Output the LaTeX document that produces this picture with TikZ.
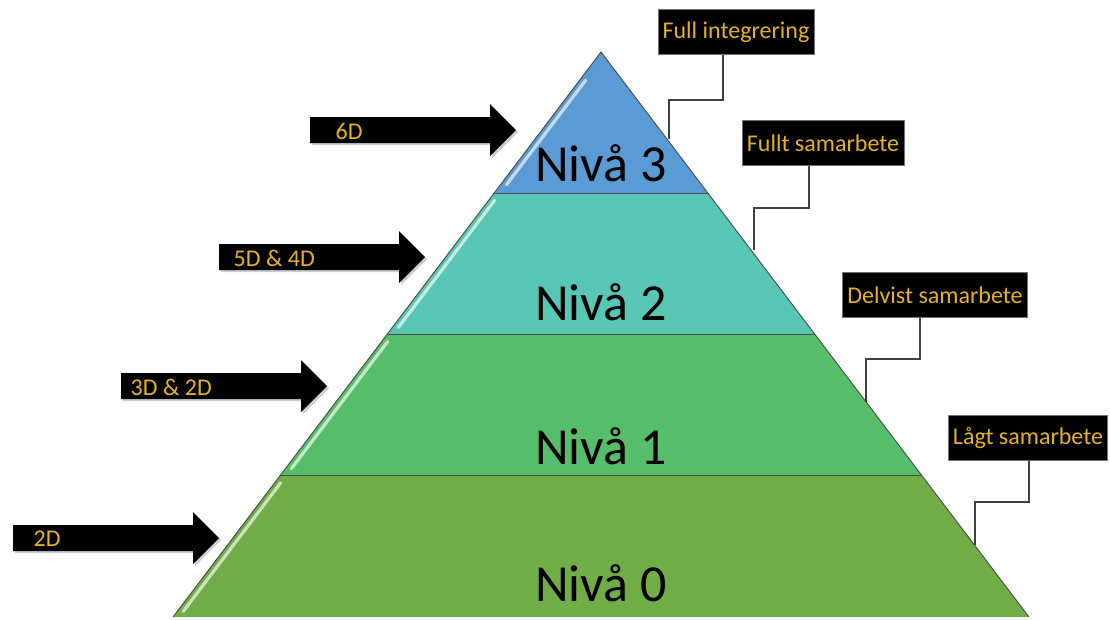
\documentclass[tikz,border=0pt]{standalone}
\usepackage{fontspec}
\setmainfont{Carlito}
\usetikzlibrary{calc,shadows}

\definecolor{lvlthree}{RGB}{91,155,213}
\definecolor{lvltwo}{RGB}{88,198,181}
\definecolor{lvlone}{RGB}{86,190,106}
\definecolor{lvlzero}{RGB}{112,173,71}
\definecolor{gold}{RGB}{228,178,32}

\begin{document}
\begin{tikzpicture}[x=0.75pt,y=-0.75pt,
  level/.style={font=\fontsize{39}{41}\selectfont},
  tag/.style={fill=black, draw=black!55, text=gold, minimum height=33.5pt,
    inner xsep=3.5pt, font=\fontsize{18}{20}\selectfont},
  dimtext/.style={anchor=west, text=gold, font=\fontsize{18}{20}\selectfont},
  link/.style={draw=black!75, line width=1.1pt},
  shine/.style={line width=2.4pt, line cap=round, opacity=0.9}]

\useasboundingbox (0,0) rectangle (1110,619);

% corners of the pyramid
  \coordinate (A)  at (601,52);
  \coordinate (BL) at (173,617);
  \coordinate (BR) at (1029,617);
  \foreach \i in {0,...,4} {
    \coordinate (L\i) at ($(A)!\i*0.25!(BL)$);
    \coordinate (R\i) at ($(A)!\i*0.25!(BR)$);
  }

% the levels
  \fill[lvlthree] (L0) -- (R1) -- (L1) -- cycle;
  \fill[lvltwo]   (L1) -- (R1) -- (R2) -- (L2) -- cycle;
  \fill[lvlone]   (L2) -- (R2) -- (R3) -- (L3) -- cycle;
  \fill[lvlzero]  (L3) -- (R3) -- (R4) -- (L4) -- cycle;

  \draw[shine, white!72!lvlthree] ($(L0)!0.2!(L1)+(6,0)$) -- ($(L0)!0.94!(L1)+(6,0)$);
  \draw[shine, white!72!lvltwo]   ($(L1)!0.05!(L2)+(6,0)$) -- ($(L1)!0.95!(L2)+(6,0)$);
  \draw[shine, white!72!lvlone]   ($(L2)!0.05!(L3)+(6,0)$) -- ($(L2)!0.95!(L3)+(6,0)$);
  \draw[shine, white!72!lvlzero]  ($(L3)!0.05!(L4)+(6,0)$) -- ($(L3)!0.96!(L4)+(6,0)$);

  \draw[black!70, line width=0.7pt] (BL) -- (A) -- (BR);
  \foreach \i in {1,2,3}
    \draw[black!70, line width=0.7pt] (L\i) -- (R\i);

  \node[level] (n3) at (601,163) {Nivå 3};
  \node[level] (n2) at (601,302) {Nivå 2};
  \node[level] (n1) at (601,446) {Nivå 1};
  \node[level] (n0) at (601,583) {Nivå 0};

% arrows on the left
  \foreach \x/\y/\tx/\txt [count=\k] in {310/130/331/6D, 219/257/229/5D \& 4D,
      121/386/126/3D \& 2D, 13/538/29/2D} {
    \fill[black, drop shadow={opacity=0.4,shadow xshift=1.5pt,shadow yshift=-1.5pt}]
      (\x,{\y-13}) -- ++(180,0) -- ++(0,-13) -- ++(26,26) -- ++(-26,26)
      -- ++(0,-13) -- ++(-180,0) -- cycle;
    \node[dimtext] (dim\k) at (\tx,{\y+1}) {\txt};
  }

% labels on the right
  \node[tag] (lbl3) at (736,32)  {Full integrering};
  \node[tag] (lbl2) at (823,143) {Fullt samarbete};
  \node[tag] (lbl1) at (935,295) {Delvist samarbete};
  \node[tag] (lbl0) at (1028,438) {Lågt samarbete};

  \coordinate (k3) at (669,100);  \coordinate (e3) at (669,139);
  \coordinate (k2) at (754,208);  \coordinate (e2) at (754,250);
  \coordinate (k1) at (866,359);  \coordinate (e1) at (866,402);
  \coordinate (k0) at (975,502);  \coordinate (e0) at (975,545);

  \draw[link] ([xshift=-9.75pt]lbl3.south) |- (k3) -- (e3);
  \draw[link] ([xshift=-10.5pt]lbl2.south) |- (k2) -- (e2);
  \draw[link] ([xshift=-11.25pt]lbl1.south) |- (k1) -- (e1);
  \draw[link] ([xshift=0.75pt]lbl0.south) |- (k0) -- (e0);

\end{tikzpicture}
\end{document}
